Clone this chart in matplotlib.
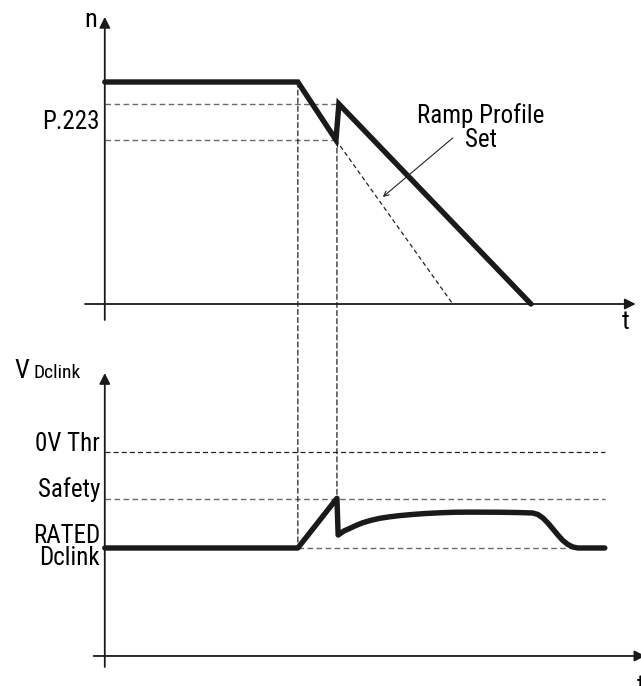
import matplotlib
matplotlib.use("Agg")
import matplotlib.pyplot as plt
from matplotlib import font_manager as fm
from matplotlib.patches import ConnectionPatch

# condensed sans, first one that is installed
installed = {f.name for f in fm.fontManager.ttflist}
narrow = [f for f in ['Roboto Condensed', 'Archivo Narrow', 'Liberation Sans Narrow',
                      'PT Sans Narrow', 'Open Sans Condensed'] if f in installed]
plt.rcParams['font.family'] = narrow[:1] + ['DejaVu Sans']

# --- data (time in arbitrary units, speed in %, Dclink voltage in p.u. of rated) ---
speed_t = [0.0, 4.0, 4.79, 4.85, 8.83]
speed_n = [100, 100, 73.9, 90.1, 0]
ramp_set_t = [4.79, 7.21]
ramp_set_n = [73.9, 0]
p223_levels = [90.1, 73.9]

vdc_t = [0.0, 4.0, 4.81, 4.835, 4.953, 5.078, 5.202, 5.347, 5.513, 5.699, 5.907,
         6.114, 6.363, 6.632, 6.943, 7.254, 7.565, 8.187, 8.601, 8.870, 8.974,
         9.078, 9.181, 9.285, 9.389, 9.492, 9.596, 9.700, 9.803, 10.36]
vdc_v = [1.0, 1.0, 1.46, 1.120, 1.157, 1.182, 1.208, 1.234, 1.256, 1.275, 1.289,
         1.300, 1.310, 1.319, 1.326, 1.331, 1.332, 1.331, 1.328, 1.324, 1.310,
         1.278, 1.231, 1.176, 1.120, 1.069, 1.032, 1.009, 1.000, 1.0]
rated = 1.0
safety = 1.454
ov_thr = 1.889
t_end = 10.36
t_stop = 4.0
t_p223 = 4.81

W, H = 641, 686
fig = plt.figure(figsize=(W / 100, H / 100), dpi=100)
ax1 = fig.add_axes([85 / W, (H - 330) / H, 556 / W, 320 / H])
ax2 = fig.add_axes([85 / W, 0, 556 / W, 346 / H])

ax1.set_xlim(-0.41, 11.11)
ax1.set_ylim(-11.71, 132.43)
ax2.set_xlim(-0.41, 11.11)
ax2.set_ylim(-0.278, 2.926)
for ax in (ax1, ax2):
    ax.axis('off')

dash_grey = dict(color='#6a6a6a', lw=1.0, ls=(0, (4, 2.5)))
dash_blk = dict(color='#222222', lw=0.9, ls=(0, (4, 2.5)))
arrow_kw = dict(arrowstyle='-|>', lw=1.3, color='#1a1a1a', mutation_scale=16,
                shrinkA=0, shrinkB=0)
thick = dict(color='#1a1a1a', lw=3.9, solid_capstyle='round')
fs = 18

# --- top: speed ---
ax1.annotate('', xy=(0, 129.3), xytext=(0, -7.2), arrowprops=arrow_kw, annotation_clip=False)
ax1.annotate('', xy=(11.0, 0), xytext=(-0.41, 0), arrowprops=arrow_kw, annotation_clip=False)
ax1.plot([0, speed_t[3]], [p223_levels[0]] * 2, **dash_grey)
ax1.plot([0, speed_t[2]], [p223_levels[1]] * 2, **dash_grey)
ax1.plot(ramp_set_t, ramp_set_n, color='#222222', lw=0.9, ls=(0, (3.5, 2.5)))
ax1.plot(speed_t, speed_n, solid_joinstyle='miter', **thick)

ax1.text(-0.15, 128, 'n', ha='right', va='center', fontsize=fs + 1)
ax1.text(10.79, -8, 't', ha='center', va='center', fontsize=fs + 1)
ax1.text(-0.1, (p223_levels[0] + p223_levels[1]) / 2, 'P.223', ha='right', va='center', fontsize=fs)
ax1.text(7.79, 79.5, 'Ramp Profile\nSet', ha='center', va='center', fontsize=fs,
         linespacing=1.0)
ax1.annotate('', xy=(5.76, 48.2), xytext=(7.21, 74.8),
             arrowprops=dict(arrowstyle='->', lw=0.8, color='#222222', mutation_scale=9,
                             shrinkA=0, shrinkB=0))

# --- bottom: Dclink voltage ---
ax2.annotate('', xy=(0, 2.62), xytext=(0, -0.102), arrowprops=arrow_kw, annotation_clip=False)
ax2.annotate('', xy=(11.2, 0), xytext=(-0.23, 0), arrowprops=arrow_kw, annotation_clip=False)
ax2.plot([0, t_end], [ov_thr] * 2, **dash_blk)
ax2.plot([0, t_end], [safety] * 2, **dash_grey)
ax2.plot([t_stop, t_end], [rated] * 2, **dash_grey)
ax2.plot(vdc_t, vdc_v, solid_joinstyle='round', **thick)

ax2.text(-0.1, ov_thr + 0.07, '0V Thr', ha='right', va='center', fontsize=fs)
ax2.text(-0.1, safety + 0.085, 'Safety', ha='right', va='center', fontsize=fs)
ax2.text(-0.1, rated + 0.115, 'RATED', ha='right', va='center', fontsize=fs)
ax2.text(-0.1, rated - 0.095, 'Dclink', ha='right', va='center', fontsize=fs)
ax2.text(-1.87, 2.64, 'V', ha='left', va='center', fontsize=fs + 1)
ax2.text(-1.47, 2.62, 'Dclink', ha='left', va='center', fontsize=14)
ax2.text(11.03, -0.17, 't', ha='left', va='top', fontsize=fs + 1)

# vertical dashed guides across both panels
for t0, nA, vB in [(t_stop, speed_n[1], rated), (t_p223, p223_levels[1], 1.46)]:
    con = ConnectionPatch(xyA=(t0, nA), coordsA=ax1.transData,
                          xyB=(t0, vB), coordsB=ax2.transData,
                          color='#222222', lw=0.9, ls=(0, (4, 2.5)))
    fig.add_artist(con)

fig.savefig('out.png', dpi=100)
